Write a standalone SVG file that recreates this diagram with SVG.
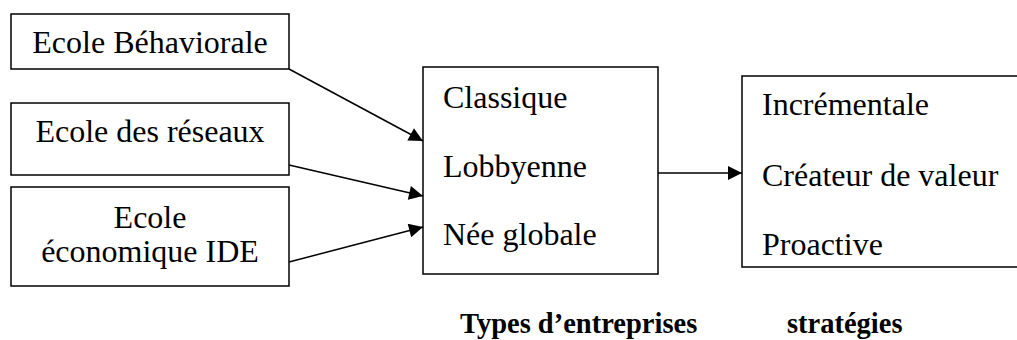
<svg xmlns="http://www.w3.org/2000/svg" width="1017" height="340" viewBox="0 0 1017 340">
<style>
.box{fill:#fff;stroke:#000;stroke-width:1.5}
.t{font-family:"Liberation Serif","Times New Roman",serif;font-size:32px;fill:#000}
.c{text-anchor:middle}
.b{font-weight:bold;font-size:28.5px}
.conn{stroke:#000;stroke-width:1.5;fill:none;marker-end:url(#ah)}
</style>
<defs>
<marker id="ah" viewBox="0 0 10 10" refX="10" refY="5" markerUnits="userSpaceOnUse" markerWidth="18" markerHeight="14" orient="auto">
<path d="M0,0 L10,5 L0,10 z" fill="#000"/>
</marker>
</defs>
<rect width="1017" height="340" fill="#fff"/>
<g id="n1"><rect class="box" x="11" y="14" width="278" height="55"/><text class="t c" x="150" y="53">Ecole Béhaviorale</text></g>
<g id="n2"><rect class="box" x="11" y="103" width="278" height="72"/><text class="t c" x="150" y="142">Ecole des réseaux</text></g>
<g id="n3"><rect class="box" x="11" y="187" width="278" height="99"/><text class="t c" x="150" y="228">Ecole</text><text class="t c" x="150" y="262">économique IDE</text></g>
<g id="n4"><rect class="box" x="423" y="67" width="235" height="207"/><text class="t" x="443" y="108">Classique</text><text class="t" x="443" y="177">Lobbyenne</text><text class="t" x="443" y="245">Née globale</text></g>
<g id="n5"><rect class="box" x="742" y="76" width="290" height="191"/><text class="t" x="762" y="115">Incrémentale</text><text class="t" x="762" y="186">Créateur de valeur</text><text class="t" x="762" y="255">Proactive</text></g>
<g id="labels"><text class="t b" x="460" y="333">Types d’entreprises</text><text class="t b" x="787" y="333">stratégies</text></g>
<g id="connectors">
<line class="conn" x1="289" y1="69" x2="423" y2="141"/>
<line class="conn" x1="289" y1="165" x2="423" y2="196"/>
<line class="conn" x1="289" y1="262" x2="423" y2="227"/>
<line class="conn" x1="658" y1="173" x2="742" y2="173"/>
</g>
</svg>
